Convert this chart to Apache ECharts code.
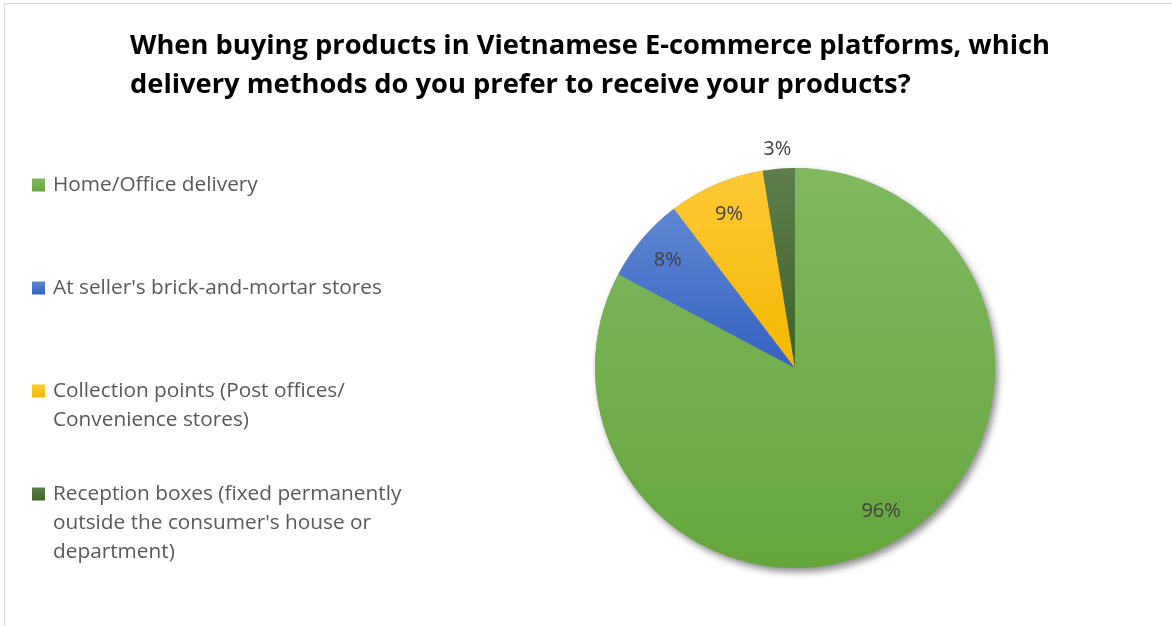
<!DOCTYPE html>
<html>
<head>
<meta charset="utf-8">
<script src="https://cdn.jsdelivr.net/npm/echarts@6/dist/echarts.min.js"></script>
<style>
  html, body { margin: 0; padding: 0; background: #ffffff; }
  #chart { width: 1172px; height: 626px; }
</style>
</head>
<body>
<div id="chart"></div>
<script>
// Survey answers: preferred delivery method (multiple choice, so shares add up past 100%)
const methods = [
  "Home/Office delivery",
  "At seller's brick-and-mortar stores",
  "Collection points (Post offices/\nConvenience stores)",
  "Reception boxes (fixed permanently\noutside the consumer's house or\ndepartment)"
];
const shares = [96, 8, 9, 3];

// Slice fills: light tint at the top of each slice, deeper shade at the bottom
const topColors = ['#80b961', '#5f87d2', '#ffc937', '#5e7f4c'];
const bottomColors = ['#65a63c', '#3562c1', '#f2b800', '#3c6225'];

// Which value labels sit outside the pie rim
const labelOutside = [false, false, false, true];

const FONT = '"Open Sans", "Noto Sans", sans-serif';
const CENTER = [795, 368];
const R = 200;

function fillFor(i) {
  return new echarts.graphic.LinearGradient(0, 0, 0, 1, [
    { offset: 0, color: topColors[i] },
    { offset: 1, color: bottomColors[i] }
  ]);
}

const mainData = methods.map((name, i) => ({
  name: name,
  value: shares[i],
  itemStyle: { color: fillFor(i) }
}));

const shadowData = methods.map((name, i) => ({ name: name, value: shares[i] }));

const innerLabelData = methods.map((name, i) => ({
  name: name,
  value: shares[i],
  label: { show: !labelOutside[i] }
}));

const outerLabelData = methods.map((name, i) => ({
  name: name,
  value: shares[i],
  label: { show: labelOutside[i] }
}));

// One legend block per entry; blank lines above the text keep the marker
// level with the first line of a wrapped entry
const LINE_H = 29;
const firstLineCenters = [185, 288, 391, 494];
const legends = methods.map((name, i) => {
  const n = name.split('\n').length;
  return {
    data: [name],
    orient: 'vertical',
    left: 32,
    top: firstLineCenters[i] - (2 * n - 1) * LINE_H / 2,
    padding: 0,
    icon: 'rect',
    itemWidth: 13,
    itemHeight: 13,
    itemGap: 0,
    selectedMode: false,
    formatter: (label) => '\n'.repeat(label.split('\n').length - 1) + label,
    textStyle: {
      fontFamily: FONT,
      fontSize: 20.8,
      color: '#595959',
      lineHeight: LINE_H,
      padding: [0, 0, 0, 3]
    }
  };
});

const labelText = {
  formatter: '{c}%',
  fontFamily: FONT,
  fontSize: 20,
  color: '#404040'
};

const chart = echarts.init(document.getElementById('chart'), null, { renderer: 'canvas' });

chart.setOption({
  backgroundColor: '#ffffff',
  animation: false,
  title: {
    text: 'When buying products in Vietnamese E-commerce platforms, which\ndelivery methods do you prefer to receive your products?',
    left: 130,
    top: 27,
    padding: 0,
    textStyle: {
      fontFamily: FONT,
      fontSize: 27.3,
      fontWeight: 'bold',
      color: '#000000',
      lineHeight: 39
    }
  },
  legend: legends,
  graphic: [{
    type: 'rect',
    silent: true,
    z: -10,
    shape: { x: 4.5, y: 3.5, width: 1200, height: 700 },
    style: { fill: 'none', stroke: '#d9d9d9', lineWidth: 1 }
  }],
  series: [
    {
      type: 'pie',
      name: 'Delivery method',
      center: CENTER,
      radius: R,
      startAngle: 90,
      clockwise: true,
      z: 2,
      avoidLabelOverlap: false,
      label: { show: false },
      labelLine: { show: false },
      emphasis: { disabled: true },
      itemStyle: { borderWidth: 0 },
      data: mainData
    },
    {
      // soft drop shadow under the whole pie
      type: 'pie',
      name: 'shadow',
      center: CENTER,
      radius: R,
      startAngle: 90,
      clockwise: true,
      silent: true,
      z: 1,
      legendHoverLink: false,
      label: { show: false },
      labelLine: { show: false },
      emphasis: { disabled: true },
      itemStyle: {
        color: '#9a9a9a',
        shadowBlur: 7,
        shadowOffsetX: 3,
        shadowOffsetY: 4,
        shadowColor: 'rgba(0,0,0,0.45)'
      },
      data: shadowData
    },
    {
      // value labels inside the slices
      type: 'pie',
      name: 'labels-inner',
      center: CENTER,
      radius: [128, R],
      startAngle: 90,
      clockwise: true,
      silent: true,
      z: 3,
      avoidLabelOverlap: false,
      itemStyle: { color: 'rgba(0,0,0,0)' },
      emphasis: { disabled: true },
      label: Object.assign({ position: 'inside' }, labelText),
      labelLine: { show: false },
      data: innerLabelData
    },
    {
      // value labels just outside the rim
      type: 'pie',
      name: 'labels-outer',
      center: CENTER,
      radius: [R, 232],
      startAngle: 90,
      clockwise: true,
      silent: true,
      z: 3,
      avoidLabelOverlap: false,
      itemStyle: { color: 'rgba(0,0,0,0)' },
      emphasis: { disabled: true },
      label: Object.assign({ position: 'inside' }, labelText),
      labelLine: { show: false },
      data: outerLabelData
    }
  ]
});
</script>
</body>
</html>
